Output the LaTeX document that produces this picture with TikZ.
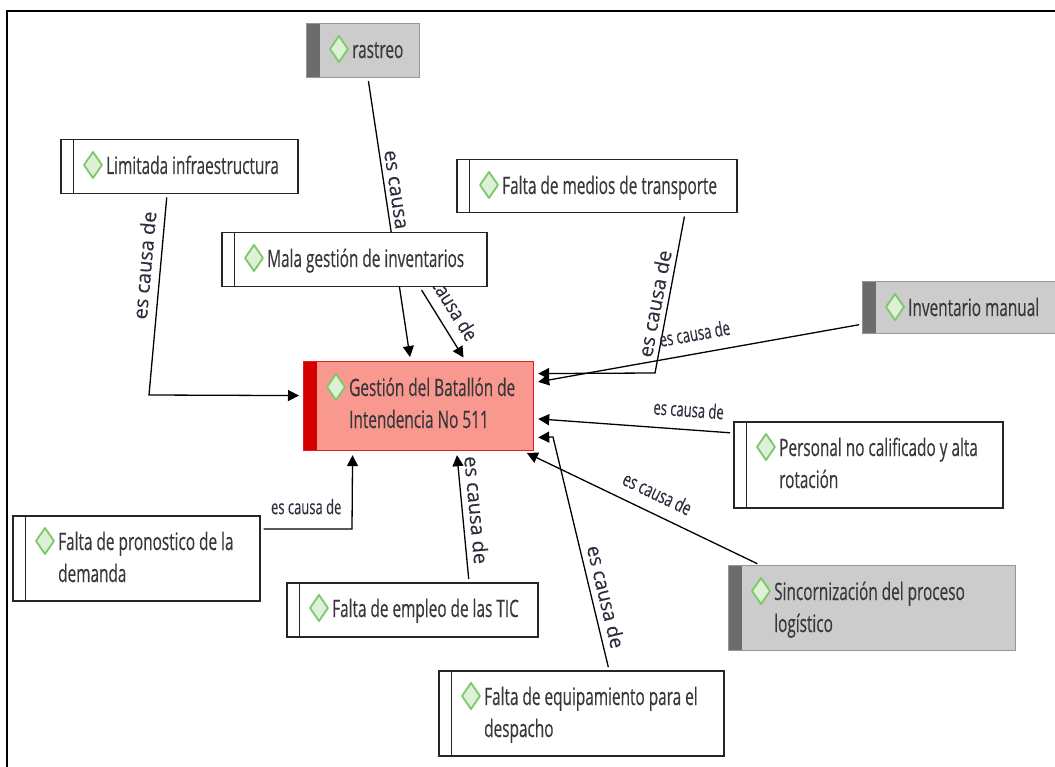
\documentclass[tikz,border=0pt]{standalone}
\usepackage{fontspec}
\setmainfont{Open Sans}
\newfontfamily\boxfont{Open Sans}[FakeBold=0.45]
\newfontfamily\labfont{Open Sans}[FakeBold=0.25]
\usetikzlibrary{arrows.meta}
\definecolor{salmon}{RGB}{249,152,142}
\definecolor{redbar}{RGB}{212,0,0}
\definecolor{redline}{RGB}{230,28,28}
\definecolor{greybox}{RGB}{204,204,204}
\definecolor{greybar}{RGB}{108,108,108}
\definecolor{greyline}{RGB}{150,150,150}
\definecolor{gemline}{RGB}{125,200,105}
\definecolor{gemfill}{RGB}{222,240,214}
\definecolor{txt}{RGB}{55,55,60}
\definecolor{labtxt}{RGB}{45,45,60}
\newcommand{\sq}[1]{\scalebox{0.64}[1]{#1}}
\newcommand{\two}[2]{\sq{\begin{tabular}[t]{@{}l@{}}#1\\#2\end{tabular}}}
\newcommand{\causa}[1]{\scalebox{#1}[1]{es causa de}}
\pgfdeclarelayer{bg}
\pgfsetlayers{bg,main}
\begin{document}
\begin{tikzpicture}[x=1pt, y=-1pt,
    wbox/.style={draw=black!85, line width=1.5pt, fill=white, anchor=north west, inner sep=0pt,
        path picture={\draw[black!85, line width=1.2pt] ([xshift=13pt]path picture bounding box.north west) -- ([xshift=13pt]path picture bounding box.south west);}},
    gbox/.style={draw=greyline, line width=1.2pt, fill=greybox, anchor=north west, inner sep=0pt,
        path picture={\fill[greybar] (path picture bounding box.north west) rectangle ([xshift=13pt]path picture bounding box.south west);}},
    rbox/.style={draw=redline, line width=1.2pt, fill=salmon, anchor=north west, inner sep=0pt,
        path picture={\fill[redbar] (path picture bounding box.north west) rectangle ([xshift=13pt]path picture bounding box.south west);}},
    ttl/.style={anchor=base west, inner sep=0pt, text=txt, font=\boxfont\fontsize{24}{32}\selectfont},
    lab/.style={sloped, above=#1, inner sep=0pt, text=labtxt, font=\labfont\fontsize{20}{24}\selectfont},
    cause/.style={line width=1.3pt, -{Triangle[length=11pt,width=11pt]}, shorten >=4pt, shorten <=3pt},
    gem/.style={draw=gemline, fill=gemfill, line width=1.8pt, line join=round}]
    \useasboundingbox (0,0) rectangle (1055,767);
    \draw[line width=2.5pt] (7,767) -- (7,11) -- (1055,11);

    \node[gbox, minimum width=113pt, minimum height=54pt] (ras) at (306,23) {};
    \node[wbox, minimum width=237pt, minimum height=54pt] (lim) at (60,139) {};
    \node[wbox, minimum width=280pt, minimum height=53pt] (med) at (456,159) {};
    \node[wbox, minimum width=265pt, minimum height=54pt] (mal) at (221,232) {};
    \node[gbox, minimum width=200pt, minimum height=52pt] (inv) at (862,281) {};
    \node[rbox, minimum width=230pt, minimum height=89pt] (ges) at (303,361) {};
    \node[wbox, minimum width=269pt, minimum height=86pt] (per) at (733,421) {};
    \node[wbox, minimum width=247pt, minimum height=85pt] (pro) at (12,515) {};
    \node[wbox, minimum width=251pt, minimum height=54pt] (tic) at (286,582) {};
    \node[gbox, minimum width=287pt, minimum height=85pt] (sin) at (728,565) {};
    \node[wbox, minimum width=285pt, minimum height=85pt] (equ) at (438,670) {};

    \foreach \b in {ras,lim,med,mal,inv,ges,per,pro,tic,sin,equ}
        \draw[gem] ([xshift=33pt,yshift=-13pt]\b.north west) -- ++(9pt,-13pt) -- ++(-9pt,-13pt) -- ++(-9pt,13pt) -- cycle;

    \node[ttl] (ras-t) at ([xshift=46pt,yshift=-35pt]ras.north west) {\sq{rastreo}};
    \node[ttl] (lim-t) at ([xshift=46pt,yshift=-35pt]lim.north west) {\sq{Limitada infraestructura}};
    \node[ttl] (med-t) at ([xshift=46pt,yshift=-35pt]med.north west) {\sq{Falta de medios de transporte}};
    \node[ttl] (mal-t) at ([xshift=46pt,yshift=-35pt]mal.north west) {\sq{Mala gestión de inventarios}};
    \node[ttl] (inv-t) at ([xshift=46pt,yshift=-35pt]inv.north west) {\sq{Inventario manual}};
    \node[ttl] (ges-t) at ([xshift=46pt,yshift=-35pt]ges.north west) {\two{Gestión del Batallón de}{Intendencia No 511}};
    \node[ttl] (per-t) at ([xshift=46pt,yshift=-35pt]per.north west) {\two{Personal no calificado y alta}{rotación}};
    \node[ttl] (pro-t) at ([xshift=46pt,yshift=-35pt]pro.north west) {\two{Falta de pronostico de la}{demanda}};
    \node[ttl] (tic-t) at ([xshift=46pt,yshift=-35pt]tic.north west) {\sq{Falta de empleo de las TIC}};
    \node[ttl] (sin-t) at ([xshift=46pt,yshift=-35pt]sin.north west) {\two{Sincornización del proceso}{logístico}};
    \node[ttl] (equ-t) at ([xshift=46pt,yshift=-35pt]equ.north west) {\two{Falta de equipamiento para el}{despacho}};

   \begin{pgfonlayer}{bg}
    \draw[cause] ([xshift=107pt]lim.south west) -- node[lab=8pt, pos=0.36] {\causa{1}} (149,395) -- ([yshift=10.5pt]ges.west);
    \draw[cause] ([xshift=62pt]ras.south west) -- node[lab=4pt, pos=0.45] {\causa{1}} ([xshift=-8pt]ges.north);
    \draw[cause] ([xshift=199pt]mal.south west) -- node[lab=10pt, pos=0.3] {\causa{0.84}} ([xshift=47pt]ges.north);
    \draw[cause] ([xshift=229pt]med.south west) -- node[lab=5pt, pos=0.58] {\causa{1}} (655,373) -- ([yshift=32.5pt]ges.east);
    \draw[cause] ([yshift=10pt]inv.south west) -- node[lab=12pt, pos=0.5] {\causa{0.66}} ([yshift=23.5pt]ges.east);
    \draw[cause] ([yshift=-12pt]per.north west) -- node[lab=12pt, pos=0.23] {\causa{0.65}} ([yshift=-12.5pt]ges.east);
    \draw[cause] ([xshift=32pt]sin.north west) -- node[lab=12pt, pos=0.47] {\causa{0.68}} ([xshift=-11pt]ges.south east);
    \draw[cause] ([xshift=171pt]equ.north west) -- node[lab=6pt, pos=0.3] {\causa{0.97}} (553,437) -- ([yshift=-31.5pt]ges.east);
    \draw[cause] ([xshift=183pt]tic.north west) -- node[lab=6pt, pos=0.54] {\causa{1}} ([xshift=38pt]ges.south);
    \draw[cause] ([yshift=-14pt]pro.north east) -- node[lab=14pt, pos=0.5] {\causa{0.65}} (352,529) -- ([xshift=-66pt]ges.south);
   \end{pgfonlayer}
\end{tikzpicture}
\end{document}
